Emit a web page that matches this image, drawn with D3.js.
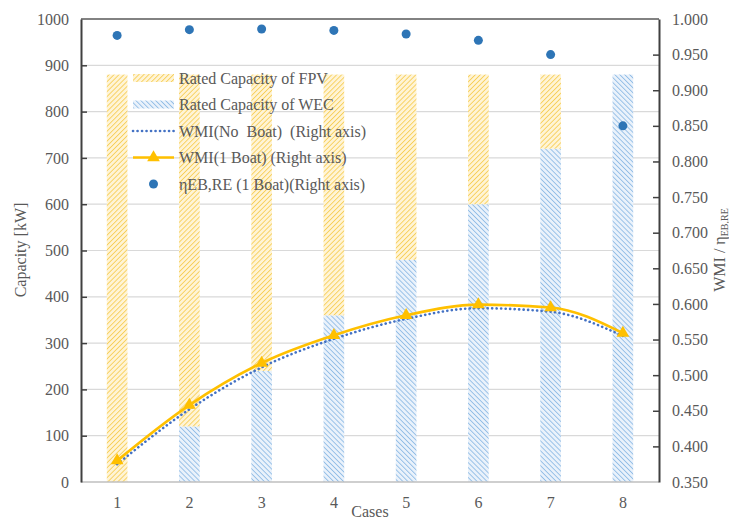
<!DOCTYPE html>
<html>
<head>
<meta charset="utf-8">
<script src="https://cdn.jsdelivr.net/npm/d3@7/dist/d3.min.js"></script>
<style>
  html, body { margin: 0; padding: 0; background: #fff; }
  svg text { font-family: "Liberation Serif", "Times New Roman", serif; fill: #595959; white-space: pre; }
</style>
</head>
<body>
<svg id="chart" width="729" height="519"></svg>
<script>
// Case labels and stacked capacities [kW]
const cases = ["1", "2", "3", "4", "5", "6", "7", "8"];
const wecCapacity = [0, 120, 240, 360, 480, 600, 720, 880];
const fpvCapacity = [880, 760, 640, 520, 400, 280, 160, 0];

// Right-axis series
const wmiNoBoat = [0.375, 0.452, 0.511, 0.551, 0.579, 0.594, 0.589, 0.555];
const wmiOneBoat = [0.380, 0.458, 0.517, 0.556, 0.584, 0.599, 0.595, 0.559];
const etaOneBoat = [0.977, 0.985, 0.986, 0.984, 0.979, 0.970, 0.950, 0.850];

// Axis ticks
const leftTicks = [0, 100, 200, 300, 400, 500, 600, 700, 800, 900, 1000];
const rightTicks = [0.35, 0.40, 0.45, 0.50, 0.55, 0.60, 0.65, 0.70, 0.75, 0.80, 0.85, 0.90, 0.95, 1.00];

const legendLabels = [
  "Rated Capacity of FPV",
  "Rated Capacity of WEC",
  "WMI(No  Boat)  (Right axis)",
  "WMI(1 Boat) (Right axis)",
  "ηEB,RE (1 Boat)(Right axis)"
];

const svg = d3.select("#chart");
const plot = { left: 81, right: 659, top: 19, bottom: 482 };

const x = d3.scaleBand().domain(cases)
  .range([plot.left, plot.right])
  .paddingInner(2.5 / 3.5).paddingOuter(1.25 / 3.5);
const cx = c => x(c) + x.bandwidth() / 2;
const yL = d3.scaleLinear().domain([0, 1000]).range([plot.bottom, plot.top]);
const yR = d3.scaleLinear().domain([0.35, 1.0]).range([plot.bottom, plot.top]);

// Hatch patterns
const defs = svg.append("defs");
const fpvPat = defs.append("pattern").attr("id", "hatchFPV")
  .attr("patternUnits", "userSpaceOnUse").attr("width", 3.5).attr("height", 3.5)
  .attr("patternTransform", "rotate(45)");
fpvPat.append("rect").attr("width", 3.5).attr("height", 3.5).attr("fill", "#fff4d6");
fpvPat.append("line").attr("x1", 0).attr("y1", 0).attr("x2", 0).attr("y2", 3.5)
  .attr("stroke", "#f7cf5a").attr("stroke-width", 1.8);
const wecPat = defs.append("pattern").attr("id", "hatchWEC")
  .attr("patternUnits", "userSpaceOnUse").attr("width", 3.5).attr("height", 3.5)
  .attr("patternTransform", "rotate(-45)");
wecPat.append("rect").attr("width", 3.5).attr("height", 3.5).attr("fill", "#eaf2fb");
wecPat.append("line").attr("x1", 0).attr("y1", 0).attr("x2", 0).attr("y2", 3.5)
  .attr("stroke", "#92bde6").attr("stroke-width", 1.8);

// Gridlines
svg.append("g").selectAll("line").data(leftTicks.filter(d => d > 0 && d < 1000)).join("line")
  .attr("x1", plot.left).attr("x2", plot.right)
  .attr("y1", d => yL(d)).attr("y2", d => yL(d))
  .attr("stroke", "#d9d9d9").attr("stroke-width", 1.2);

// Stacked bars: WEC at the bottom, FPV on top
const bars = svg.append("g");
bars.selectAll("rect.wec").data(cases).join("rect").attr("class", "wec")
  .attr("x", d => x(d)).attr("width", x.bandwidth())
  .attr("y", (d, i) => yL(wecCapacity[i]))
  .attr("height", (d, i) => yL(0) - yL(wecCapacity[i]))
  .attr("fill", "url(#hatchWEC)");
bars.selectAll("rect.fpv").data(cases).join("rect").attr("class", "fpv")
  .attr("x", d => x(d)).attr("width", x.bandwidth())
  .attr("y", (d, i) => yL(wecCapacity[i] + fpvCapacity[i]))
  .attr("height", (d, i) => yL(wecCapacity[i]) - yL(wecCapacity[i] + fpvCapacity[i]))
  .attr("fill", "url(#hatchFPV)");

// Frame: baseline, top border, axes
svg.append("line").attr("x1", plot.left).attr("x2", plot.right)
  .attr("y1", plot.bottom).attr("y2", plot.bottom)
  .attr("stroke", "#bfbfbf").attr("stroke-width", 1.5);
svg.append("line").attr("x1", plot.left).attr("x2", plot.right)
  .attr("y1", plot.top).attr("y2", plot.top)
  .attr("stroke", "#595959").attr("stroke-width", 1.5);

const axisL = svg.append("g").attr("transform", `translate(${plot.left},0)`)
  .call(d3.axisLeft(yL).tickValues(leftTicks).tickSize(-6).tickPadding(12)
    .tickSizeOuter(0).tickFormat(d => String(d)));
const axisR = svg.append("g").attr("transform", `translate(${plot.right},0)`)
  .call(d3.axisRight(yR).tickValues(rightTicks).tickSize(-6).tickPadding(13)
    .tickSizeOuter(0).tickFormat(d3.format(".3f")));
[axisL, axisR].forEach(a => {
  a.select(".domain").attr("stroke", "#404040").attr("stroke-width", 2);
  a.selectAll(".tick line").attr("stroke", "#404040").attr("stroke-width", 1.5);
  a.selectAll(".tick text").attr("font-size", 16).attr("fill", "#595959")
    .style("font-family", "'Liberation Serif', serif");
});
axisL.selectAll(".tick").filter(d => d === 0 || d === 1000).select("line").remove();
axisR.selectAll(".tick").filter(d => d < 0.36 || d > 0.99).select("line").remove();

// Category labels
svg.append("g").selectAll("text").data(cases).join("text")
  .attr("x", d => cx(d)).attr("y", 508).attr("text-anchor", "middle")
  .attr("font-size", 16).text(d => d);

// Lines
const line = arr => d3.line().x((d, i) => cx(cases[i])).y(d => yR(d))
  .curve(d3.curveMonotoneX)(arr);
svg.append("path").attr("d", line(wmiNoBoat)).attr("fill", "none")
  .attr("stroke", "#4472c4").attr("stroke-width", 2.6)
  .attr("stroke-dasharray", "0.1 4.4").attr("stroke-linecap", "round");
svg.append("path").attr("d", line(wmiOneBoat)).attr("fill", "none")
  .attr("stroke", "#ffc000").attr("stroke-width", 2.6);
const tri = d3.symbol().type(d3.symbolTriangle).size(70);
svg.append("g").selectAll("path").data(wmiOneBoat).join("path")
  .attr("d", tri)
  .attr("transform", (d, i) => `translate(${cx(cases[i])},${yR(d)})`)
  .attr("fill", "#ffc000");

// Efficiency points
svg.append("g").selectAll("circle").data(etaOneBoat).join("circle")
  .attr("cx", (d, i) => cx(cases[i])).attr("cy", d => yR(d)).attr("r", 4.5)
  .attr("fill", "#2e75b6");

// Legend
const leg = svg.append("g");
const rowY = [78, 104.5, 131, 157.5, 184];
const sw0 = 133, sw1 = 174;
leg.append("rect").attr("x", sw0).attr("y", rowY[0] - 4).attr("width", sw1 - sw0).attr("height", 8)
  .attr("fill", "url(#hatchFPV)");
leg.append("rect").attr("x", sw0).attr("y", rowY[1] - 4).attr("width", sw1 - sw0).attr("height", 8)
  .attr("fill", "url(#hatchWEC)");
leg.append("line").attr("x1", sw0).attr("x2", sw1).attr("y1", rowY[2]).attr("y2", rowY[2])
  .attr("stroke", "#4472c4").attr("stroke-width", 2.6)
  .attr("stroke-dasharray", "0.1 4.4").attr("stroke-linecap", "round");
leg.append("line").attr("x1", sw0).attr("x2", sw1).attr("y1", rowY[3]).attr("y2", rowY[3])
  .attr("stroke", "#ffc000").attr("stroke-width", 2.6);
leg.append("path").attr("d", tri).attr("transform", `translate(${(sw0 + sw1) / 2},${rowY[3]})`)
  .attr("fill", "#ffc000");
leg.append("circle").attr("cx", (sw0 + sw1) / 2).attr("cy", rowY[4]).attr("r", 4.5)
  .attr("fill", "#2e75b6");
leg.selectAll("text").data(legendLabels).join("text")
  .attr("x", 179).attr("y", (d, i) => rowY[i]).attr("dy", "0.35em")
  .attr("font-size", 16).text(d => d);

// Axis titles
svg.append("text").attr("transform", "translate(26,250) rotate(-90)")
  .attr("text-anchor", "middle").attr("font-size", 16).text("Capacity [kW]");
const rt = svg.append("text").attr("transform", "translate(725,250) rotate(-90)")
  .attr("text-anchor", "middle").attr("font-size", 16);
rt.append("tspan").text("WMI / η");
rt.append("tspan").attr("font-size", 10).attr("dy", 3).text("EB,RE");
svg.append("text").attr("x", (plot.left + plot.right) / 2).attr("y", 517)
  .attr("text-anchor", "middle").attr("font-size", 16).text("Cases");
</script>
</body>
</html>
